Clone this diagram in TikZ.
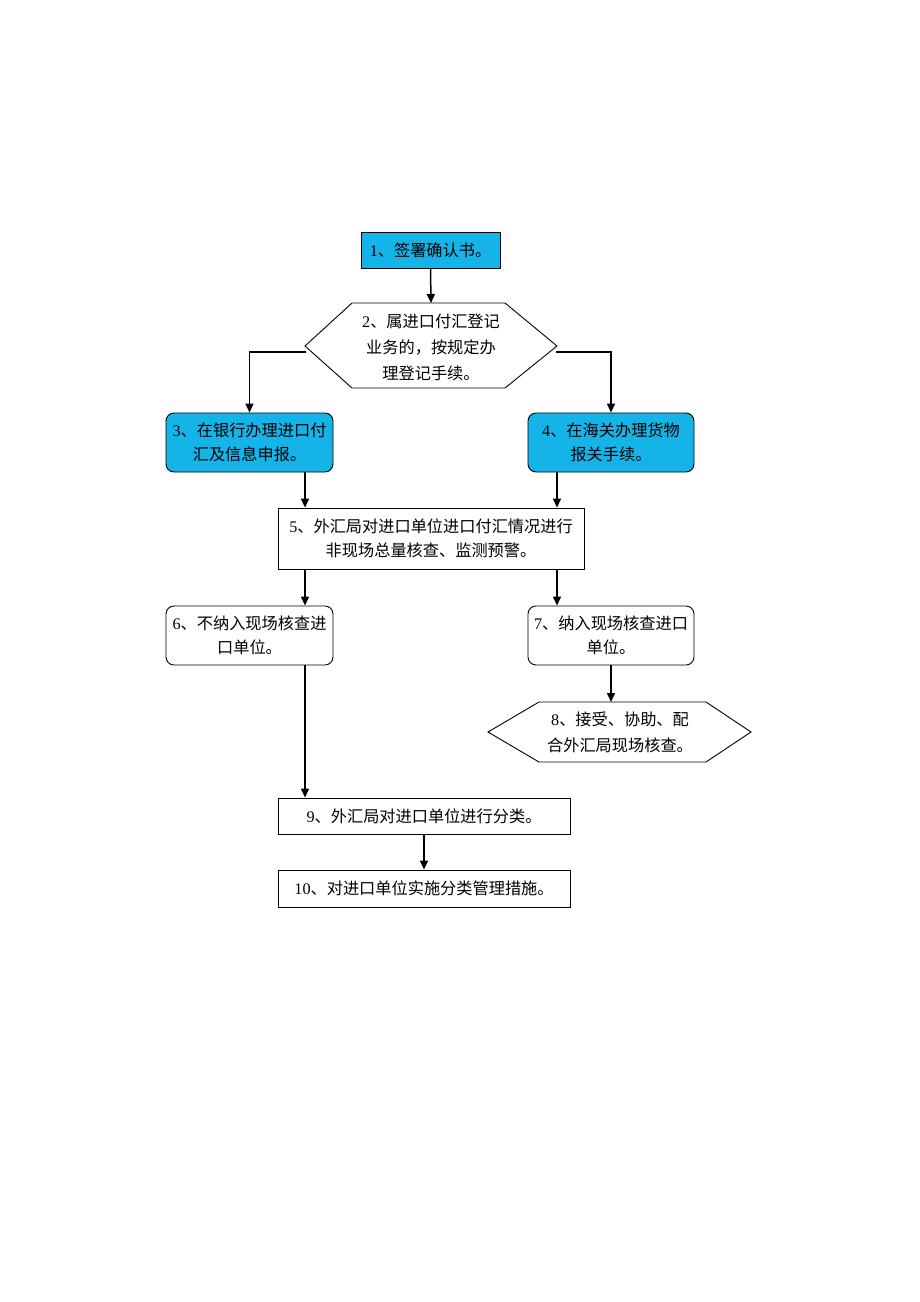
\documentclass[tikz,border=0pt]{standalone}
\usepackage{fontspec}
\setmainfont{Liberation Serif}
\newfontfamily\cjk{Noto Sans CJK SC}
\usetikzlibrary{arrows.meta}
\definecolor{boxcyan}{RGB}{20,180,232}
\tikzset{
  base/.style={draw=black, line width=0.9pt, inner sep=0pt, align=center,
    font=\fontsize{16.2}{24}\selectfont},
  sq/.style={base},
  rnd/.style={base, rounded corners=8pt},
  cyanfill/.style={fill=boxcyan},
  hexline/.style={draw=black, line width=0.9pt},
  lbl/.style={inner sep=0pt, align=center, font=\fontsize{16.2}{26}\selectfont},
  arr/.style={line width=1.5pt, -{Triangle[length=9pt,width=8pt]}},
}
\begin{document}
\begin{tikzpicture}[x=1pt,y=-1pt]
\useasboundingbox (0,0) rectangle (920,1302);

\coordinate (cL) at (305,0);
\coordinate (cR) at (557,0);

% 1
\node[sq, cyanfill, minimum width=139pt, minimum height=36pt] (n1) at (430.5,250) {1{\cjk 、签署确认书。}};

% 2 hexagon
\draw[hexline] (352,303) -- (505,303) -- (557,346) -- (505,388) -- (352,388) -- (305,346) -- cycle;
\node[lbl] (n2) at (431,347) {2{\cjk 、属进口付汇登记}\\{\cjk 业务的，按规定办}\\{\cjk 理登记手续。}};
\coordinate (h2top) at (431,303);
\coordinate (h2l) at (306,352);
\coordinate (h2r) at (556,352);

% 3, 4
\node[rnd, cyanfill, minimum width=167pt, minimum height=59pt] (n3) at (249.5,442.5) {3{\cjk 、在银行办理进口付}\\{\cjk 汇及信息申报。}};
\node[rnd, cyanfill, minimum width=166pt, minimum height=59pt] (n4) at (611,442.5) {4{\cjk 、在海关办理货物}\\{\cjk 报关手续。}};

% 5
\node[sq, minimum width=306pt, minimum height=61pt] (n5) at (431,538.5) {5{\cjk 、外汇局对进口单位进口付汇情况进行}\\{\cjk 非现场总量核查、监测预警。}};

% 6, 7
\node[rnd, minimum width=167pt, minimum height=59pt] (n6) at (249.5,635.5) {6{\cjk 、不纳入现场核查进}\\{\cjk 口单位。}};
\node[rnd, minimum width=166pt, minimum height=59pt] (n7) at (611,635.5) {7{\cjk 、纳入现场核查进口}\\{\cjk 单位。}};

% 8 hexagon
\draw[hexline] (539,702) -- (706,702) -- (751,732) -- (706,762) -- (539,762) -- (488,732) -- cycle;
\node[lbl] (n8) at (620,732) {8{\cjk 、接受、协助、配}\\{\cjk 合外汇局现场核查。}};
\coordinate (h8top) at (611,702);

% 9, 10
\node[sq, minimum width=292pt, minimum height=36pt] (n9) at (424,816) {9{\cjk 、外汇局对进口单位进行分类。}};
\node[sq, minimum width=292pt, minimum height=37pt] (n10) at (424,888.5) {10{\cjk 、对进口单位实施分类管理措施。}};

% connectors
\draw[arr] (n1.south) -- (h2top);
\draw[arr] (h2l) -| (n3.north);
\draw[arr] (h2r) -| (n4.north);
\draw[arr] (n3.south -| cL) -- (n5.north -| cL);
\draw[arr] (n4.south -| cR) -- (n5.north -| cR);
\draw[arr] (n5.south -| cL) -- (n6.north -| cL);
\draw[arr] (n5.south -| cR) -- (n7.north -| cR);
\draw[arr] (n7.south) -- (h8top);
\draw[arr] (n6.south -| cL) -- (n9.north -| cL);
\draw[arr] (n9.south) -- (n10.north);
\end{tikzpicture}
\end{document}
